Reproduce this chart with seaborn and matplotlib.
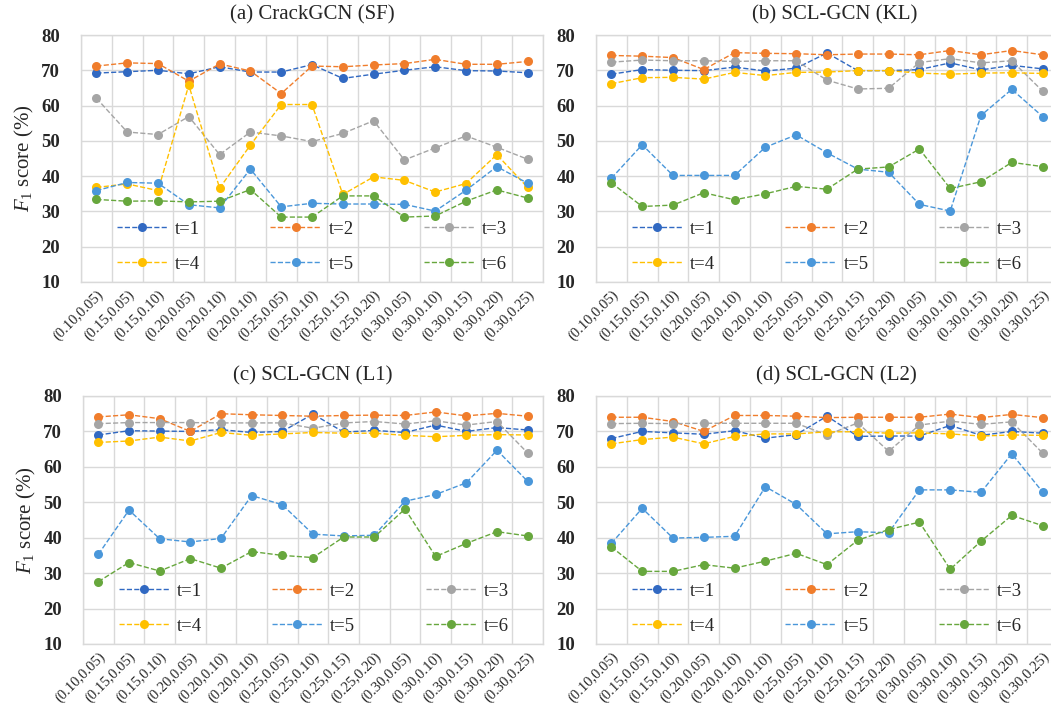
import numpy as np
import pandas as pd
import seaborn as sns
import matplotlib.pyplot as plt
from matplotlib.ticker import FixedLocator

# x categories (the reference repeats "(0.20,0.10)")
settings = ['(0.10,0.05)', '(0.15,0.05)', '(0.15,0.10)', '(0.20,0.05)', '(0.20,0.10)',
            '(0.20,0.10)', '(0.25,0.05)', '(0.25,0.10)', '(0.25,0.15)', '(0.25,0.20)',
            '(0.30,0.05)', '(0.30,0.10)', '(0.30,0.15)', '(0.30,0.20)', '(0.30,0.25)']
t_labels = ['t=1', 't=2', 't=3', 't=4', 't=5', 't=6']
colors = ['#3169C2', '#F07D2C', '#A5A5A5', '#FFC000', '#4A97DA', '#67A73D']

# (a) CrackGCN (SF)
a_t1 = [69.2, 69.6, 70.0, 69.0, 71.0, 69.5, 69.5, 71.6, 67.7, 68.9, 70.0, 71.0, 69.9, 69.8, 69.3]
a_t2 = [71.2, 72.1, 71.9, 66.9, 71.8, 69.8, 63.4, 71.2, 71.0, 71.5, 71.9, 73.1, 71.7, 71.7, 72.5]
a_t3 = [62.1, 52.5, 51.8, 56.9, 46.1, 52.5, 51.4, 49.8, 52.1, 55.7, 44.6, 48.0, 51.4, 48.2, 44.8]
a_t4 = [36.8, 37.8, 35.9, 65.8, 36.6, 48.8, 60.3, 60.3, 34.8, 39.8, 38.8, 35.5, 37.9, 46.1, 36.8]
a_t5 = [35.9, 38.2, 38.0, 31.9, 31.0, 42.0, 31.3, 32.3, 32.1, 32.1, 32.0, 30.1, 36.0, 42.7, 38.0]
a_t6 = [33.4, 32.9, 33.0, 32.7, 32.9, 36.2, 28.4, 28.4, 34.4, 34.4, 28.4, 28.7, 32.9, 36.1, 33.8]

# (b) SCL-GCN (KL)
b_t1 = [68.9, 70.2, 70.0, 69.9, 70.9, 69.8, 70.6, 74.9, 69.9, 69.9, 70.2, 72.1, 70.1, 71.4, 70.4]
b_t2 = [74.2, 74.0, 73.6, 70.2, 75.0, 74.8, 74.7, 74.4, 74.6, 74.6, 74.4, 75.6, 74.4, 75.6, 74.4]
b_t3 = [72.3, 72.9, 72.7, 72.7, 72.5, 72.7, 72.7, 67.2, 64.7, 64.9, 72.2, 73.3, 72.1, 72.7, 64.1]
b_t4 = [66.2, 67.9, 68.0, 67.5, 69.4, 68.5, 69.4, 69.5, 69.9, 69.9, 69.2, 68.9, 69.2, 69.3, 69.1]
b_t5 = [39.4, 48.9, 40.2, 40.2, 40.2, 48.2, 51.7, 46.6, 42.0, 41.1, 32.0, 30.1, 57.2, 64.6, 56.9]
b_t6 = [38.1, 31.4, 31.8, 35.3, 33.3, 35.0, 37.1, 36.3, 42.0, 42.6, 47.7, 36.5, 38.4, 43.9, 42.7]

# (c) SCL-GCN (L1)
c_t1 = [69.0, 70.2, 70.1, 70.0, 70.5, 69.7, 70.0, 74.9, 69.8, 70.3, 69.7, 71.8, 70.0, 71.1, 70.4]
c_t2 = [74.1, 74.7, 73.6, 70.0, 75.0, 74.7, 74.5, 74.3, 74.5, 74.6, 74.5, 75.5, 74.4, 75.1, 74.3]
c_t3 = [72.2, 72.5, 72.5, 72.5, 72.4, 72.4, 72.4, 70.9, 72.4, 72.8, 72.1, 73.0, 71.8, 72.8, 63.9]
c_t4 = [66.9, 67.3, 68.4, 67.3, 69.7, 68.9, 69.3, 69.7, 69.5, 69.5, 68.9, 68.5, 68.9, 69.1, 69.0]
c_t5 = [35.3, 47.8, 39.7, 38.8, 39.8, 51.9, 49.3, 41.0, 40.5, 40.7, 50.3, 52.2, 55.5, 64.7, 55.9]
c_t6 = [27.6, 33.0, 30.6, 34.1, 31.4, 36.1, 35.0, 34.4, 40.2, 40.2, 48.1, 34.7, 38.4, 41.7, 40.5]

# (d) SCL-GCN (L2)
d_t1 = [68.0, 70.0, 69.6, 69.2, 70.2, 68.1, 69.1, 74.3, 68.6, 68.7, 68.7, 71.7, 68.9, 70.0, 69.5]
d_t2 = [74.0, 74.0, 72.8, 70.0, 74.5, 74.5, 74.3, 73.9, 74.0, 74.0, 74.0, 74.9, 73.9, 74.8, 73.9]
d_t3 = [72.2, 72.3, 72.2, 72.3, 72.3, 72.3, 72.3, 69.0, 72.4, 64.4, 71.8, 72.9, 72.0, 72.7, 63.9]
d_t4 = [66.5, 67.7, 68.4, 66.5, 68.6, 69.3, 69.3, 69.9, 69.9, 69.5, 69.6, 69.3, 68.7, 69.0, 68.9]
d_t5 = [38.4, 48.3, 39.9, 40.1, 40.4, 54.4, 49.4, 41.1, 41.7, 41.4, 53.5, 53.5, 52.8, 63.7, 52.9]
d_t6 = [37.4, 30.5, 30.5, 32.4, 31.4, 33.4, 35.6, 32.4, 39.3, 42.3, 44.4, 31.1, 39.0, 46.3, 43.4]

panels = [
    ('(a) CrackGCN (SF)', [a_t1, a_t2, a_t3, a_t4, a_t5, a_t6]),
    ('(b) SCL-GCN (KL)', [b_t1, b_t2, b_t3, b_t4, b_t5, b_t6]),
    ('(c) SCL-GCN (L1)', [c_t1, c_t2, c_t3, c_t4, c_t5, c_t6]),
    ('(d) SCL-GCN (L2)', [d_t1, d_t2, d_t3, d_t4, d_t5, d_t6]),
]

sns.set_theme(style='white')
plt.rcParams['font.family'] = ['Liberation Serif', 'DejaVu Serif']
plt.rcParams['mathtext.fontset'] = 'custom'
plt.rcParams['mathtext.rm'] = 'Liberation Serif'
plt.rcParams['mathtext.it'] = 'Liberation Serif:italic'

W, H = 1051, 716
fig = plt.figure(figsize=(W / 100, H / 100), dpi=100)

# axes boxes in pixels: left, top, right, bottom (right column runs past the image edge)
boxes = [(81, 35, 543, 282), (596, 35, 1058, 282),
         (83, 396, 543, 644), (596, 396, 1058, 644)]
title_x = [0.5, 0.517, 0.5, 0.52]

grid_col = '#D9D9D9'
x = np.arange(len(settings))
# legend is filled row by row: t=1 t=2 t=3 / t=4 t=5 t=6
leg_order = [0, 3, 1, 4, 2, 5]

for k, ((title, series), (l, t, r, b)) in enumerate(zip(panels, boxes)):
    ax = fig.add_axes([l / W, 1 - b / H, (r - l) / W, (b - t) / H])
    df = pd.DataFrame({
        'x': np.tile(x, len(t_labels)),
        'f1': np.concatenate(series),
        't': np.repeat(t_labels, len(settings)),
    })
    sns.lineplot(data=df, x='x', y='f1', hue='t', palette=colors, ax=ax,
                 marker='o', markersize=6.5, markeredgewidth=0, linestyle='--',
                 linewidth=1.0, legend=False)

    ax.set_xlim(-0.5, len(settings) - 0.5)
    ax.set_ylim(10, 80)
    ax.set_yticks(range(10, 81, 10))
    ax.set_xticks(x)
    ax.set_xticklabels(settings, rotation=45, ha='right', rotation_mode='anchor',
                       fontsize=10.5)
    for lab in ax.get_yticklabels():
        lab.set_fontweight('bold')
        lab.set_fontsize(13.5)
    ax.xaxis.set_minor_locator(FixedLocator(np.arange(-0.5, len(settings), 1.0)))
    ax.grid(True, which='minor', axis='x', color=grid_col, linewidth=1.0)
    ax.grid(True, which='major', axis='y', color=grid_col, linewidth=1.0)
    ax.set_axisbelow(True)
    ax.tick_params(axis='both', which='both', length=0)
    ax.tick_params(axis='x', pad=4)
    ax.tick_params(axis='y', pad=15)
    for sp in ax.spines.values():
        sp.set_color(grid_col)
        sp.set_linewidth(1.0)

    ax.set_xlabel('')
    if k % 2 == 0:
        ax.set_ylabel('$F_1$ score (%)', fontsize=15, labelpad=4)
    else:
        ax.set_ylabel('')
    ax.set_title(title, fontsize=15, x=title_x[k], pad=11)

    handles = [ax.lines[i] for i in leg_order]
    labels = [t_labels[i] for i in leg_order]
    ax.legend(handles, labels, ncol=3, loc='lower left',
              bbox_to_anchor=(0.057, 0.0), frameon=False, fontsize=13.5,
              handlelength=2.7, handletextpad=0.4, columnspacing=3.75,
              labelspacing=0.95, borderaxespad=0.1)

fig.savefig('out.png', dpi=100)
